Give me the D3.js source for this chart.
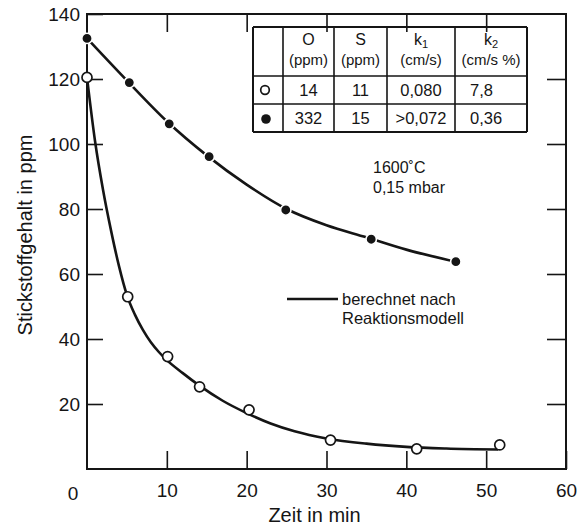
<!DOCTYPE html>
<html>
<head>
<meta charset="utf-8">
<script src="https://cdn.jsdelivr.net/npm/d3@7"></script>
<style>
    body { margin: 0; background: #fff; }
    svg { font-family: "Liberation Sans", Arial, Helvetica, sans-serif; fill: #151515; }
    .frame { fill: none; stroke: #151515; stroke-width: 2; }
    .tick line { stroke: #151515; stroke-width: 1.6; }
    .curve { fill: none; stroke: #151515; stroke-width: 2.6; }
    .grid line { stroke: #151515; }
</style>
</head>
<body>
<div id="chart"></div>
<script>
// measured points (time in min, nitrogen in ppm)
const openTime = [0, 5.1, 10.1, 14.1, 20.3, 30.5, 41.3, 51.7]
const openN = [120.5, 53, 34.6, 25.3, 18.2, 8.9, 6.2, 7.4]
const filledTime = [0, 5.3, 10.3, 15.3, 24.9, 35.6, 46.2]
const filledN = [132.5, 118.9, 106.2, 96.1, 79.7, 70.7, 63.8]

// curves from the reaction model
const modelOpenTime = [0, 1, 2, 3, 4, 5, 6, 7, 8, 9, 10, 12, 14, 17, 20, 23, 26, 30, 35, 40, 45, 51.5]
const modelOpenN = [120.5, 101, 86, 73.5, 62.5, 53.5, 47.5, 42.8, 39, 36, 33.5, 29.5, 25.8, 21, 17.2, 14, 11.6, 9.4, 7.8, 6.8, 6.3, 6.0]
const modelFilledTime = [0, 5, 10, 15, 20, 25, 30, 35, 40, 46.5]
const modelFilledN = [132.5, 119.5, 107, 96.5, 87.5, 80, 75, 71.3, 67.5, 63.6]

const xTicks = [10, 20, 30, 40, 50, 60]
const yTicks = [20, 40, 60, 80, 100, 120, 140]

// table content
const headSymbol = ["O", "S", "k", "k"]
const headSub = ["", "", "1", "2"]
const headUnit = ["(ppm)", "(ppm)", "(cm/s)", "(cm/s %)"]
const rowOpen = ["14", "11", "0,080", "7,8"]
const rowFilled = ["332", "15", ">0,072", "0,36"]

const conditions = ["1600˚C", "0,15 mbar"]
const legendText = ["berechnet nach", "Reaktionsmodell"]

const width = 577
const height = 529
const margin = { left: 87, top: 14, right: 11, bottom: 60 }

const svg = d3.select("#chart").append("svg")
    .attr("width", width)
    .attr("height", height)

const x = d3.scaleLinear().domain([0, 60]).range([margin.left, width - margin.right])
const y = d3.scaleLinear().domain([0, 140]).range([height - margin.bottom, margin.top])

// axes, ticks pointing inwards
svg.append("g")
    .attr("transform", `translate(${x(0)},0)`)
    .call(d3.axisLeft(y).tickValues(yTicks).tickSizeInner(-16).tickSizeOuter(0).tickPadding(7))
    .call(g => g.select(".domain").remove())
    .call(g => g.selectAll("text").attr("font-size", 19).attr("fill", "#151515").attr("font-family", null))

svg.append("g")
    .attr("transform", `translate(${x(60)},0)`)
    .call(d3.axisRight(y).tickValues(yTicks.slice(0, -1)).tickSize(-19).tickFormat(""))
    .call(g => g.select(".domain").remove())

svg.append("g")
    .attr("transform", `translate(0,${y(0)})`)
    .call(d3.axisBottom(x).tickValues(xTicks).tickSizeInner(-18).tickSizeOuter(0).tickPadding(15))
    .call(g => g.select(".domain").remove())
    .call(g => g.selectAll("text").attr("font-size", 19).attr("fill", "#151515").attr("font-family", null))

svg.append("g")
    .attr("transform", `translate(0,${y(140)})`)
    .call(d3.axisTop(x).tickValues(xTicks.slice(0, -1)).tickSize(-18).tickFormat(""))
    .call(g => g.select(".domain").remove())

svg.append("rect")
    .attr("class", "frame")
    .attr("x", x(0))
    .attr("y", y(140))
    .attr("width", x(60) - x(0))
    .attr("height", y(0) - y(140))

// shared zero in the corner
svg.append("text")
    .attr("x", x(0) - 14)
    .attr("y", y(0) + 31)
    .attr("text-anchor", "middle")
    .attr("font-size", 19)
    .text("0")

svg.append("text")
    .attr("x", (x(0) + x(60)) / 2 - 12)
    .attr("y", 522)
    .attr("text-anchor", "middle")
    .attr("font-size", 20)
    .text("Zeit in min")

svg.append("text")
    .attr("transform", `translate(32,235) rotate(-90)`)
    .attr("text-anchor", "middle")
    .attr("font-size", 20)
    .text("Stickstoffgehalt in ppm")

// model curves
const line = d3.line().x(d => x(d[0])).y(d => y(d[1])).curve(d3.curveMonotoneX)
svg.append("path").attr("class", "curve").attr("d", line(d3.zip(modelOpenTime, modelOpenN)))
svg.append("path").attr("class", "curve").attr("d", line(d3.zip(modelFilledTime, modelFilledN)))

svg.append("g").selectAll("circle")
    .data(d3.zip(filledTime, filledN))
    .join("circle")
    .attr("cx", d => x(d[0]))
    .attr("cy", d => y(d[1]))
    .attr("r", 5.2)
    .attr("fill", "#151515")
    .attr("stroke", "#fff")
    .attr("stroke-width", 1.6)

svg.append("g").selectAll("circle")
    .data(d3.zip(openTime, openN))
    .join("circle")
    .attr("cx", d => x(d[0]))
    .attr("cy", d => y(d[1]))
    .attr("r", 5)
    .attr("fill", "#fff")
    .attr("stroke", "#151515")
    .attr("stroke-width", 1.7)

// conditions and legend
svg.append("g").selectAll("text")
    .data(conditions)
    .join("text")
    .attr("x", 373)
    .attr("y", (d, i) => 173 + i * 20)
    .attr("font-size", 16)
    .text(d => d)

svg.append("line")
    .attr("x1", 287).attr("x2", 338)
    .attr("y1", 299).attr("y2", 299)
    .attr("stroke", "#151515")
    .attr("stroke-width", 2.6)

svg.append("g").selectAll("text")
    .data(legendText)
    .join("text")
    .attr("x", 342)
    .attr("y", (d, i) => 305 + i * 19)
    .attr("font-size", 16.5)
    .text(d => d)

// parameter table
const colEdges = [253, 283, 334, 387, 455, 527]
const rowEdges = [27, 76, 104, 132]
const table = svg.append("g").attr("class", "grid")

table.selectAll("line.v")
    .data(colEdges)
    .join("line")
    .attr("class", "v")
    .attr("x1", d => d).attr("x2", d => d)
    .attr("y1", rowEdges[0]).attr("y2", rowEdges[3])
    .attr("stroke-width", (d, i) => i == 0 || i == colEdges.length - 1 ? 2 : 1.6)

table.selectAll("line.h")
    .data(rowEdges)
    .join("line")
    .attr("class", "h")
    .attr("x1", colEdges[0]).attr("x2", colEdges[5])
    .attr("y1", d => d).attr("y2", d => d)
    .attr("stroke-width", (d, i) => i == 0 || i == rowEdges.length - 1 ? 2 : 1.6)

const colCenter = i => (colEdges[i + 1] + colEdges[i + 2]) / 2

const headTop = table.selectAll("text.head")
    .data(headSymbol)
    .join("text")
    .attr("class", "head")
    .attr("x", (d, i) => colCenter(i))
    .attr("y", 45)
    .attr("text-anchor", "middle")
    .attr("font-size", 16)
headTop.append("tspan").text(d => d)
headTop.append("tspan")
    .attr("dy", 3)
    .attr("font-size", 11)
    .text((d, i) => headSub[i])

table.selectAll("text.unit")
    .data(headUnit)
    .join("text")
    .attr("class", "unit")
    .attr("x", (d, i) => colCenter(i))
    .attr("y", 65)
    .attr("text-anchor", "middle")
    .attr("font-size", 15)
    .text(d => d)

const rowY = [96, 124]
;[rowOpen, rowFilled].forEach((row, r) => {
    table.append("g").selectAll("text")
        .data(row)
        .join("text")
        .attr("x", (d, i) => i == 3 ? colEdges[4] + 15 : colCenter(i))
        .attr("y", rowY[r])
        .attr("text-anchor", (d, i) => i == 3 ? "start" : "middle")
        .attr("font-size", 16.5)
        .text(d => d)
})

table.append("circle")
    .attr("cx", 265).attr("cy", 90).attr("r", 4.3)
    .attr("fill", "#fff").attr("stroke", "#151515").attr("stroke-width", 1.7)
table.append("circle")
    .attr("cx", 266).attr("cy", 119).attr("r", 4.8)
    .attr("fill", "#151515")
</script>
</body>
</html>
